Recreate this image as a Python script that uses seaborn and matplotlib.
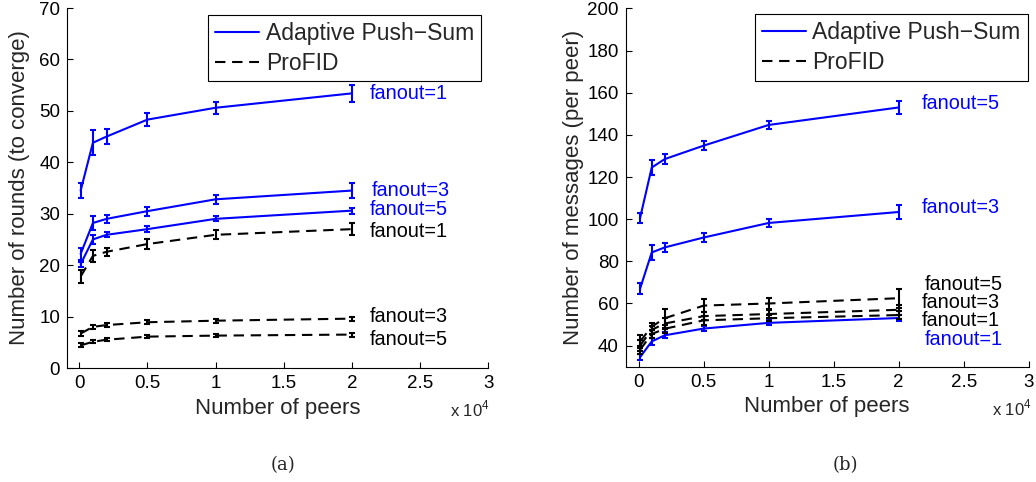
import matplotlib
matplotlib.use("Agg")
import matplotlib.pyplot as plt
from matplotlib.lines import Line2D
from matplotlib.ticker import FuncFormatter
import numpy as np
import pandas as pd
import seaborn as sns

sns.set_theme(style="ticks")
plt.rcParams['font.family'] = ['Liberation Sans', 'DejaVu Sans']
plt.rcParams['mathtext.fontset'] = 'custom'
plt.rcParams['mathtext.rm'] = 'Liberation Sans'

# ---- data ----
peers = [100, 1000, 2000, 5000, 10000, 20000]
methods = ['Adaptive Push\u2212Sum', 'ProFID']
fanouts = [1, 3, 5]

# (a) rounds to converge
aps_rounds = {1: [34.5, 43.8, 45.0, 48.3, 50.6, 53.4],
              3: [22.2, 28.2, 29.0, 30.5, 32.8, 34.5],
              5: [20.2, 25.0, 25.9, 27.0, 29.0, 30.6]}
aps_rounds_err = {1: [1.5, 2.4, 1.4, 1.3, 1.2, 1.6],
                  3: [1.2, 1.3, 0.8, 0.9, 0.9, 1.4],
                  5: [0.5, 0.8, 0.5, 0.6, 0.5, 0.6]}
pro_rounds = {1: [17.8, 21.8, 22.6, 24.1, 25.9, 27.0],
              3: [6.7, 8.0, 8.35, 8.9, 9.2, 9.6],
              5: [4.4, 5.1, 5.5, 6.1, 6.3, 6.5]}
pro_rounds_err = {1: [1.3, 1.2, 0.8, 1.0, 0.9, 1.2],
                  3: [0.5, 0.4, 0.4, 0.4, 0.4, 0.4],
                  5: [0.4, 0.3, 0.3, 0.3, 0.3, 0.4]}

# (b) messages per peer
aps_msgs = {1: [34.5, 42.0, 44.9, 48.1, 50.8, 53.1],
            3: [67.0, 84.2, 86.6, 91.3, 98.2, 103.4],
            5: [100.5, 124.5, 128.5, 134.9, 144.7, 153.0]}
aps_msgs_err = {1: [1.5, 1.5, 1.5, 1.3, 1.2, 1.2],
                3: [2.5, 3.5, 2.0, 2.0, 2.0, 3.5],
                5: [2.5, 3.5, 2.5, 2.0, 2.0, 3.2]}
pro_msgs = {1: [38.0, 45.5, 48.0, 52.0, 53.0, 54.5],
            3: [40.0, 47.5, 50.5, 54.0, 55.0, 57.0],
            5: [42.0, 49.0, 53.0, 59.0, 60.0, 62.5]}
pro_msgs_err = {1: [2.0, 2.0, 2.0, 2.0, 1.5, 2.0],
                3: [2.5, 2.0, 2.5, 2.0, 2.0, 2.5],
                5: [3.0, 1.5, 4.5, 3.0, 2.5, 4.5]}


def to_frame(aps, aps_err, pro, pro_err):
    rows = []
    for m, vals, errs in [(methods[0], aps, aps_err), (methods[1], pro, pro_err)]:
        for f in fanouts:
            for p, v, e in zip(peers, vals[f], errs[f]):
                rows.append({'peers': p, 'value': v, 'err': e, 'method': m, 'fanout': f})
    return pd.DataFrame(rows)


df_a = to_frame(aps_rounds, aps_rounds_err, pro_rounds, pro_rounds_err)
df_b = to_frame(aps_msgs, aps_msgs_err, pro_msgs, pro_msgs_err)

palette = {methods[0]: '#0000ff', methods[1]: 'black'}
dash_map = {methods[0]: '', methods[1]: (5, 3.2)}

fig = plt.figure(figsize=(10.36, 4.82), dpi=100)
ax_a = fig.add_axes([0.0647, 0.2365, 0.4064, 0.7469])
ax_b = fig.add_axes([0.604, 0.2392, 0.389, 0.7434])


def draw(ax, df):
    sns.lineplot(data=df, x='peers', y='value', hue='method', style='method',
                 units='fanout', estimator=None, palette=palette, dashes=dash_map,
                 linewidth=1.5, legend=False, ax=ax)
    for (m, f), g in df.groupby(['method', 'fanout']):
        ax.errorbar(g['peers'], g['value'], yerr=g['err'], fmt='none',
                    ecolor=palette[m], elinewidth=1.5, capsize=2.5, capthick=1.5)
    ax.xaxis.set_major_formatter(FuncFormatter(lambda v, _: f"{v / 1e4:g}"))
    ax.set_xticks(np.arange(0, 30001, 5000))
    ax.tick_params(direction='in', length=4, width=0.8, labelsize=13.5, pad=5,
                   colors='black')
    for s in ['left', 'bottom']:
        ax.spines[s].set_color('black')
        ax.spines[s].set_linewidth(0.8)
    sns.despine(ax=ax)
    ax.set_xlabel('Number of peers', fontsize=16, labelpad=4)
    ax.text(0.91, -0.115, r'x 10$^{4}$', transform=ax.transAxes, fontsize=12,
            ha='left', va='center')
    handles = [Line2D([], [], color=palette[methods[0]], lw=1.5),
               Line2D([], [], color='black', lw=1.5, dashes=(5, 3.2))]
    return handles


h = draw(ax_a, df_a)
ax_a.set_xlim(-900, 30000)
ax_a.set_ylim(0, 70)
ax_a.set_yticks(np.arange(0, 71, 10))
ax_a.set_ylabel('Number of rounds (to converge)', fontsize=16)
ax_a.yaxis.set_label_coords(-0.088, 0.5)
ax_a.legend(h, methods, loc='upper right', bbox_to_anchor=(0.983, 0.981),
            borderaxespad=0, fancybox=False, edgecolor='black', framealpha=1,
            fontsize=16.5, handlelength=1.9, handletextpad=0.3, labelspacing=0.3,
            borderpad=0.3).get_frame().set_linewidth(0.8)

blue = '#0000ff'
ax_a.text(21300, 53.4, 'fanout=1', color=blue, fontsize=14.3, va='center')
ax_a.text(21500, 34.6, 'fanout=3', color=blue, fontsize=14.3, va='center')
ax_a.text(21300, 30.9, 'fanout=5', color=blue, fontsize=14.3, va='center')
ax_a.text(21300, 26.5, 'fanout=1', color='black', fontsize=14.3, va='center')
ax_a.text(21300, 10.0, 'fanout=3', color='black', fontsize=14.3, va='center')
ax_a.text(21300, 5.6, 'fanout=5', color='black', fontsize=14.3, va='center')

h = draw(ax_b, df_b)
ax_b.set_xlim(-1000, 30000)
ax_b.set_ylim(30, 200)
ax_b.set_yticks(np.arange(40, 201, 20))
ax_b.set_ylabel('Number of messages (per peer)', fontsize=16)
ax_b.yaxis.set_label_coords(-0.103, 0.5)
ax_b.legend(h, methods, loc='upper right', bbox_to_anchor=(0.997, 0.984),
            borderaxespad=0, fancybox=False, edgecolor='black', framealpha=1,
            fontsize=16.5, handlelength=1.9, handletextpad=0.3, labelspacing=0.3,
            borderpad=0.3).get_frame().set_linewidth(0.8)

ax_b.text(21800, 154.7, 'fanout=5', color=blue, fontsize=14.3, va='center')
ax_b.text(21800, 105.4, 'fanout=3', color=blue, fontsize=14.3, va='center')
ax_b.text(22000, 68.9, 'fanout=5', color='black', fontsize=14.3, va='center')
ax_b.text(21800, 60.5, 'fanout=3', color='black', fontsize=14.3, va='center')
ax_b.text(21800, 51.8, 'fanout=1', color='black', fontsize=14.3, va='center')
ax_b.text(22000, 42.8, 'fanout=1', color=blue, fontsize=14.3, va='center')

fig.text(283 / 1036, 1 - 465 / 482, '(a)', family='DejaVu Serif', fontsize=13,
         ha='center', va='center')
fig.text(845 / 1036, 1 - 465 / 482, '(b)', family='DejaVu Serif', fontsize=13,
         ha='center', va='center')

fig.savefig('out.png', dpi=100)
